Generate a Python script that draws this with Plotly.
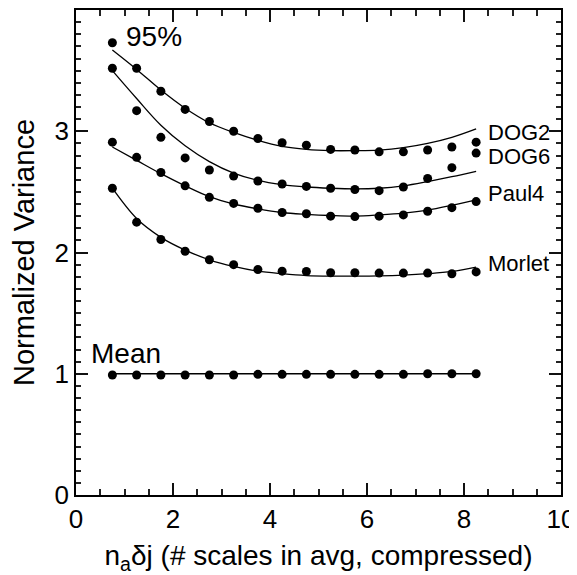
import plotly.graph_objects as go

# scale counts (n_a * dj)
n_scales = [0.75, 1.25, 1.75, 2.25, 2.75, 3.25, 3.75, 4.25,
            4.75, 5.25, 5.75, 6.25, 6.75, 7.25, 7.75, 8.25]

# 95% points (simulated) per wavelet
dog2_pts = [3.73, 3.52, 3.33, 3.18, 3.08, 3.00, 2.94, 2.905,
            2.885, 2.85, 2.845, 2.83, 2.83, 2.845, 2.87, 2.91]
dog6_pts = [3.52, 3.17, 2.95, 2.78, 2.68, 2.63, 2.59, 2.565,
            2.545, 2.53, 2.52, 2.51, 2.54, 2.61, 2.70, 2.82]
paul4_pts = [2.91, 2.785, 2.66, 2.55, 2.455, 2.405, 2.365, 2.33,
             2.32, 2.30, 2.296, 2.30, 2.31, 2.34, 2.37, 2.42]
morlet_pts = [2.53, 2.25, 2.107, 2.01, 1.94, 1.90, 1.86, 1.846,
              1.843, 1.833, 1.833, 1.83, 1.83, 1.83, 1.825, 1.84]
mean_pts = [0.99, 0.99, 0.99, 0.99, 0.99, 0.99, 0.995, 0.995,
            0.995, 0.995, 0.995, 0.995, 0.995, 1.0, 1.0, 1.0]

# theoretical curves, read at the same scale counts
dog2_fit = [3.67, 3.51, 3.34, 3.19, 3.07, 2.99, 2.925, 2.875,
            2.85, 2.84, 2.84, 2.845, 2.865, 2.9, 2.95, 3.02]
dog6_fit = [3.50, 3.27, 3.05, 2.88, 2.75, 2.655, 2.595, 2.56,
            2.54, 2.53, 2.525, 2.53, 2.55, 2.585, 2.625, 2.67]
paul4_fit = [2.87, 2.76, 2.65, 2.55, 2.46, 2.40, 2.36, 2.33,
             2.315, 2.305, 2.30, 2.31, 2.325, 2.35, 2.39, 2.435]
morlet_fit = [2.53, 2.28, 2.125, 2.02, 1.94, 1.885, 1.846, 1.825,
              1.81, 1.805, 1.805, 1.807, 1.813, 1.825, 1.844, 1.88]
mean_fit = [1.0] * 16

font = "Liberation Sans, Arial, Helvetica, sans-serif"

fig = go.Figure()
for fit in [dog2_fit, dog6_fit, paul4_fit, morlet_fit, mean_fit]:
    fig.add_trace(go.Scatter(x=n_scales, y=fit, mode="lines", line_shape="spline",
                             line=dict(color="black", width=1.3), hoverinfo="skip"))
for pts in [dog2_pts, dog6_pts, paul4_pts, morlet_pts, mean_pts]:
    fig.add_trace(go.Scatter(x=n_scales, y=pts, mode="markers",
                             marker=dict(color="black", size=9)))

labels = [("DOG2", 8.45, 2.99), ("DOG6", 8.45, 2.79), ("Paul4", 8.45, 2.49),
          ("Morlet", 8.45, 1.91)]
for txt, lx, ly in labels:
    fig.add_annotation(x=lx, y=ly, text=txt, showarrow=False, xanchor="left",
                       font=dict(size=22, color="black", family=font))
fig.add_annotation(x=0.98, y=3.78, text="95%", showarrow=False, xanchor="left",
                   font=dict(size=28, color="black", family=font))
fig.add_annotation(x=0.26, y=1.17, text="Mean", showarrow=False, xanchor="left",
                   font=dict(size=28, color="black", family=font))

fig.update_xaxes(range=[0, 10], dtick=2, showline=True, linecolor="black", linewidth=1.5,
                 mirror="ticks", ticks="inside", ticklen=12, tickwidth=2, tickcolor="#111111",
                 showgrid=False, zeroline=False, ticklabeloverflow="allow", automargin=False,
                 minor=dict(dtick=0.5, ticks="inside", ticklen=6, tickwidth=2,
                            tickcolor="#222222"),
                 tickfont=dict(size=26, color="black", family=font),
                 title=dict(text="n<sub>a</sub>δj (# scales in avg, compressed)",
                            font=dict(size=28, color="black", family=font), standoff=16))
fig.update_yaxes(range=[0, 4], dtick=1, showline=True, linecolor="black", linewidth=1.5,
                 mirror="ticks", ticks="inside", ticklen=12, tickwidth=2, tickcolor="#111111",
                 showgrid=False, zeroline=False, automargin=False,
                 minor=dict(dtick=0.1, ticks="inside", ticklen=5, tickwidth=2,
                            tickcolor="#222222"),
                 tickfont=dict(size=26, color="black", family=font),
                 title=dict(text="Normalized Variance",
                            font=dict(size=29, color="black", family=font), standoff=16))
# page body adds an 8px offset, so the figure is sized to fit inside the window
fig.update_layout(width=569, height=567, showlegend=False,
                  margin=dict(l=68, r=16, t=2, b=80),
                  plot_bgcolor="white", paper_bgcolor="white")
fig.write_html("out.html")
